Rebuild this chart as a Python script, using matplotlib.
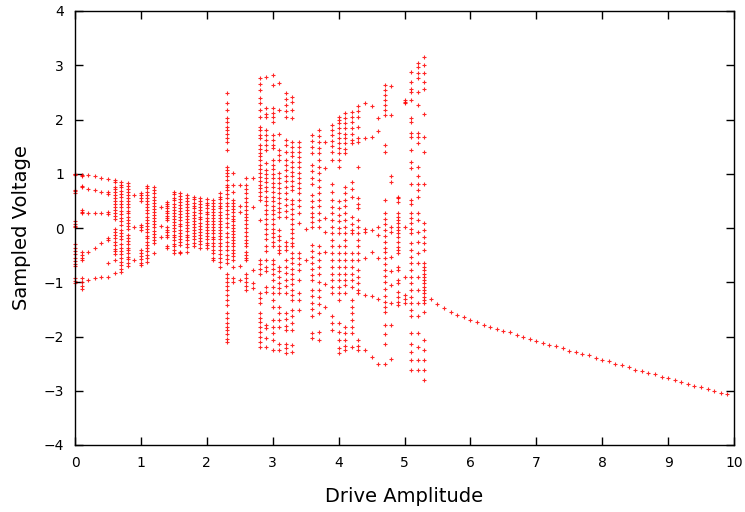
import matplotlib
matplotlib.use("Agg")
import matplotlib.pyplot as plt

# drive amplitude of each sampled column (chaotic / periodic region)
drive = [round(0.1 * k, 1) for k in range(54)]

# sampled voltages, one list per drive amplitude
v0_0 = [1.0, 0.99, 0.97, 0.70, 0.68, 0.65, 0.12, 0.08, 0.04, 0.01, -0.30, -0.36, -0.42, -0.48, -0.55, -0.60, -0.66, -0.70, -0.92, -0.97, -1.02]
v0_1 = [0.98, 0.96, 0.78, 0.75, 0.33, 0.30, 0.27, -0.44, -0.50, -0.55, -0.59, -0.93, -1.00, -1.07, -1.12]
v0_2 = [0.97, 0.72, 0.28, -0.45, -0.95]
v0_3 = [0.95, 0.70, 0.28, -0.36, -0.93]
v0_4 = [0.92, 0.67, 0.28, -0.28, -0.90]
v0_5 = [0.90, 0.66, 0.62, 0.30, 0.26, -0.19, -0.22, -0.65, -0.90]
v0_6 = [0.89, 0.85, 0.76, 0.71, 0.66, 0.61, 0.55, 0.50, 0.44, 0.38, 0.33, 0.27, 0.22, 0.16, -0.02, -0.07, -0.13, -0.19, -0.25, -0.31, -0.38, -0.43, -0.48, -0.59, -0.83]
v0_7 = [0.85, 0.80, 0.75, 0.69, 0.63, 0.58, 0.50, 0.44, 0.39, 0.31, 0.25, 0.18, 0.12, 0.05, -0.03, -0.09, -0.15, -0.21, -0.30, -0.36, -0.42, -0.48, -0.55, -0.62, -0.68, -0.75, -0.81]
v0_8 = [0.83, 0.78, 0.72, 0.67, 0.61, 0.55, 0.49, 0.44, 0.38, 0.32, 0.27, 0.21, 0.15, 0.09, 0.03, -0.02, -0.13, -0.18, -0.24, -0.30, -0.36, -0.41, -0.47, -0.53, -0.58, -0.64, -0.70]
v0_9 = [0.61, 0.02, -0.59]
v1_0 = [0.64, 0.60, 0.55, 0.50, 0.06, 0.02, -0.04, -0.40, -0.46, -0.52, -0.58, -0.64, -0.68]
v1_1 = [0.78, 0.73, 0.67, 0.61, 0.56, 0.50, 0.44, 0.38, 0.33, 0.27, 0.21, 0.15, 0.10, 0.04, -0.02, -0.08, -0.14, -0.19, -0.25, -0.31, -0.37, -0.43, -0.50, -0.56, -0.62]
v1_2 = [0.76, 0.70, 0.64, 0.58, 0.52, 0.47, 0.41, 0.35, 0.30, 0.24, 0.18, 0.12, 0.07, 0.01, -0.05, -0.11, -0.16, -0.22, -0.28, -0.47]
v1_3 = [0.38, 0.04, -0.16]
v1_4 = [0.48, 0.44, 0.40, 0.36, 0.31, 0.27, 0.23, 0.18, 0.15, 0.02, -0.03, -0.08, -0.12, -0.16, -0.34, -0.37]
v1_5 = [0.67, 0.62, 0.56, 0.51, 0.45, 0.39, 0.34, 0.28, 0.22, 0.17, 0.11, 0.05, 0.00, -0.06, -0.12, -0.17, -0.23, -0.29, -0.34, -0.40, -0.47]
v1_6 = [0.65, 0.59, 0.54, 0.48, 0.42, 0.37, 0.31, 0.26, 0.20, 0.14, 0.08, 0.03, -0.03, -0.09, -0.14, -0.20, -0.26, -0.31, -0.44, -0.47]
v1_7 = [0.61, 0.56, 0.50, 0.45, 0.39, 0.33, 0.28, 0.22, 0.16, 0.11, 0.05, 0.00, -0.06, -0.12, -0.17, -0.23, -0.29, -0.35, -0.44]
v1_8 = [0.58, 0.53, 0.47, 0.41, 0.36, 0.30, 0.24, 0.19, 0.13, 0.08, 0.02, -0.04, -0.10, -0.15, -0.21, -0.27, -0.34]
v1_9 = [0.55, 0.50, 0.44, 0.38, 0.33, 0.27, 0.21, 0.16, 0.10, 0.04, -0.01, -0.07, -0.13, -0.18, -0.24, -0.30, -0.37]
v2_0 = [0.53, 0.47, 0.42, 0.36, 0.30, 0.25, 0.19, 0.13, 0.08, 0.02, -0.04, -0.09, -0.15, -0.21, -0.27, -0.32, -0.37]
v2_1 = [0.52, 0.47, 0.41, 0.35, 0.30, 0.24, 0.18, 0.13, 0.07, 0.01, -0.04, -0.10, -0.16, -0.21, -0.27, -0.33, -0.40, -0.47, -0.55, -0.59]
v2_2 = [0.64, 0.58, 0.53, 0.47, 0.41, 0.36, 0.30, 0.24, 0.19, 0.13, 0.07, 0.02, -0.04, -0.10, -0.15, -0.21, -0.27, -0.33, -0.40, -0.48, -0.56, -0.63, -0.71]
v2_3 = [2.48, 2.30, 2.18, 2.02, 1.96, 1.87, 1.80, 1.73, 1.66, 1.59, 1.44, 1.13, 1.06, 1.01, 0.95, 0.88, 0.80, 0.76, 0.70, 0.63, 0.55, 0.47, 0.40, 0.33, 0.25, 0.18, 0.10, 0.02, -0.10, -0.17, -0.25, -0.34, -0.41, -0.49, -0.57, -0.65, -0.84, -0.92, -1.00, -1.07, -1.14, -1.23, -1.32, -1.42, -1.57, -1.66, -1.75, -1.82, -1.88, -1.96, -2.04, -2.10]
v2_4 = [1.01, 0.79, 0.67, 0.52, 0.46, 0.40, 0.35, 0.29, 0.23, 0.17, 0.12, 0.06, 0.00, -0.05, -0.11, -0.17, -0.23, -0.28, -0.34, -0.40, -0.46, -0.52, -0.59, -0.71, -0.93, -0.99]
v2_5 = [0.79, 0.41, 0.30, -0.70, -0.96]
v2_6 = [0.92, 0.79, 0.72, 0.64, 0.56, 0.48, 0.40, 0.33, 0.26, 0.21, 0.15, 0.08, 0.00, -0.08, -0.15, -0.22, -0.28, -0.34, -0.44, -0.50, -0.55, -0.59, -0.84, -0.92, -1.00, -1.07, -1.14]
v2_7 = [0.92, 0.39, -0.77, -1.02, -1.11]
v2_8 = [2.76, 2.66, 2.54, 2.39, 2.30, 2.18, 2.05, 1.87, 1.80, 1.72, 1.65, 1.53, 1.46, 1.39, 1.32, 1.25, 1.16, 1.09, 1.01, 0.94, 0.87, 0.80, 0.73, 0.66, 0.59, 0.52, 0.15, -0.59, -0.67, -0.76, -0.84, -1.20, -1.29, -1.39, -1.57, -1.65, -1.74, -1.83, -1.92, -2.01, -2.10, -2.19]
v2_9 = [2.79, 2.21, 2.11, 2.05, 1.81, 1.72, 1.62, 1.53, 1.44, 1.19, 1.07, 1.00, 0.92, 0.84, 0.76, 0.68, 0.58, 0.50, 0.42, 0.34, 0.25, 0.17, 0.08, -0.02, -0.11, -0.20, -0.34, -0.42, -0.59, -0.71, -0.80, -1.08, -1.18, -1.79, -1.85, -2.02, -2.19]
v3_0 = [2.82, 2.64, 2.21, 2.12, 2.04, 1.96, 1.71, 1.62, 1.53, 1.47, 1.25, 1.17, 1.08, 1.00, 0.92, 0.83, 0.75, 0.67, 0.58, 0.50, 0.41, 0.33, 0.25, 0.16, 0.08, -0.01, -0.09, -0.17, -0.25, -0.34, -0.59, -0.67, -0.76, -0.84, -0.96, -1.08, -1.20, -1.32, -1.45, -1.70, -1.82, -1.94, -2.07, -2.25]
v3_1 = [2.67, 2.18, 1.74, 1.44, 1.34, 1.25, 1.01, 0.92, 0.83, 0.74, 0.64, 0.55, 0.46, 0.37, 0.29, 0.21, -0.04, -0.14, -0.23, -0.33, -0.41, -0.47, -0.71, -0.80, -0.90, -1.01, -1.10, -1.20, -1.45, -1.57, -1.70, -1.82, -2.13, -2.25]
v3_2 = [2.48, 2.38, 2.27, 2.15, 2.05, 1.62, 1.53, 1.41, 1.25, 1.16, 1.06, 0.96, 0.86, 0.75, 0.65, 0.54, 0.43, 0.32, 0.21, -0.25, -0.33, -0.41, -0.59, -0.71, -0.83, -0.95, -1.07, -1.20, -1.57, -1.68, -1.80, -1.88, -2.13, -2.22, -2.31]
v3_3 = [2.42, 2.33, 2.18, 2.02, 1.59, 1.50, 1.41, 1.32, 1.22, 1.13, 1.04, 0.95, 0.86, 0.78, 0.70, 0.52, 0.44, 0.35, 0.26, 0.17, 0.08, -0.01, -0.10, -0.19, -0.27, -0.34, -0.47, -0.56, -0.65, -0.75, -0.84, -0.94, -1.04, -1.14, -1.24, -1.33, -1.51, -1.63, -1.76, -1.88, -2.15, -2.28]
v3_4 = [1.59, 1.50, 1.41, 1.31, 1.22, 1.12, 1.02, 0.92, 0.83, 0.73, 0.64, 0.52, 0.40, 0.27, 0.09, -0.47, -0.56, -0.66, -0.78, -0.96, -1.20, -1.33, -1.51]
v3_5 = [-0.01, -0.59]
v3_6 = [1.71, 1.60, 1.49, 1.38, 1.16, 1.05, 0.93, 0.82, 0.61, 0.50, 0.38, 0.27, 0.21, 0.11, 0.02, -0.31, -0.42, -0.53, -0.64, -0.75, -0.86, -0.96, -1.14, -1.26, -1.38, -1.50, -1.63, -1.94, -2.03]
v3_7 = [1.81, 1.70, 1.59, 1.48, 1.38, 1.25, 1.13, 1.01, 0.89, 0.76, 0.64, 0.52, 0.40, 0.27, 0.15, 0.02, -0.34, -0.47, -0.59, -0.72, -0.84, -0.99, -1.14, -1.27, -1.40, -1.57, -1.91, -2.06]
v3_8 = [1.59, 1.10, 0.18, -0.07, -0.45, -1.03, -1.45]
v3_9 = [1.90, 1.80, 1.71, 1.61, 1.51, 1.40, 1.25, 0.82, 0.67, 0.52, 0.39, 0.27, 0.15, 0.02, -0.10, -0.22, -0.34, -0.47, -0.59, -0.72, -0.84, -0.96, -1.08, -1.20, -1.63, -1.76, -1.88]
v4_0 = [2.05, 1.99, 1.93, 1.84, 1.75, 1.65, 1.56, 1.47, 1.38, 1.25, 1.13, 0.49, 0.37, 0.24, 0.12, 0.00, -0.10, -0.34, -0.47, -0.59, -0.72, -0.84, -0.96, -1.08, -1.20, -1.33, -1.76, -1.91, -2.06, -2.21, -2.31]
v4_1 = [2.12, 2.03, 1.93, 1.84, 1.74, 1.65, 1.56, 1.45, 1.38, 0.76, 0.64, 0.52, 0.40, 0.27, 0.15, 0.02, -0.10, -0.22, -0.34, -0.47, -0.59, -0.71, -0.84, -0.96, -1.05, -1.20, -1.82, -1.94, -2.06, -2.18, -2.25]
v4_2 = [2.14, 2.05, 1.95, 1.85, 1.74, 1.62, 1.56, 0.85, 0.72, 0.58, 0.21, 0.08, -0.04, -0.10, -0.47, -0.59, -0.71, -0.84, -0.96, -1.08, -1.33, -1.45, -1.57, -1.70, -1.82, -1.94, -2.19]
v4_3 = [2.24, 2.15, 2.05, 1.86, 1.65, 1.59, 1.13, 0.55, 0.44, 0.36, 0.15, 0.02, -0.10, -0.22, -0.34, -0.47, -0.59, -0.77, -0.90, -1.02, -1.14, -1.20, -2.06, -2.18, -2.25]
v4_4 = [2.30, 1.65, -0.01, -0.08, -0.56, -1.24, -2.25]
v4_5 = [2.25, 1.68, -0.04, -0.44, -1.25, -2.38]
v4_6 = [2.02, 1.78, 0.02, -0.13, -0.56, -1.30, -2.50]
v4_7 = [2.64, 2.55, 2.45, 2.36, 2.27, 2.17, 2.08, 1.53, 1.41, 0.52, 0.27, 0.17, 0.07, -0.03, -0.14, -0.25, -0.36, -0.45, -0.56, -0.66, -0.77, -0.88, -0.99, -1.12, -1.25, -1.36, -1.45, -1.54, -1.79, -1.95, -2.13, -2.51]
v4_8 = [2.62, 2.08, 0.96, 0.85, 0.02, -0.07, -0.53, -0.80, -1.05, -1.39, -1.79, -2.42]
v4_9 = [0.58, 0.55, 0.48, 0.27, 0.21, 0.15, 0.09, 0.02, -0.04, -0.10, -0.16, -0.26, -0.35, -0.41, -0.47, -0.71, -0.77, -0.96, -1.02, -1.18, -1.27, -1.36, -1.42]
v5_0 = [2.36, 2.33, 2.31, 0.02, -0.90, -1.24, -1.30, -1.39]
v5_1 = [2.88, 2.70, 2.57, 2.51, 2.36, 2.02, 1.96, 1.75, 1.68, 1.44, 1.22, 1.10, 0.82, 0.52, 0.45, 0.27, 0.18, 0.09, -0.01, -0.10, -0.28, -0.41, -0.53, -0.65, -0.77, -0.90, -1.02, -1.14, -1.27, -1.39, -1.51, -1.63, -1.94, -2.13, -2.28, -2.43, -2.62]
v5_2 = [3.04, 2.97, 2.85, 2.76, 2.51, 2.27, 1.75, 1.68, 1.56, 1.13, 0.95, 0.82, 0.70, 0.58, 0.27, 0.15, -0.07, -0.25, -0.47, -0.65, -0.90, -1.14, -1.39, -1.63, -1.94, -2.19, -2.43, -2.62]
v5_3 = [3.16, 3.00, 2.85, 2.70, 2.57, 2.11, 1.68, 1.41, 0.82, 0.09, -0.04, -0.16, -0.28, -0.41, -0.65, -0.71, -0.77, -0.84, -0.90, -0.96, -1.02, -1.08, -1.14, -1.20, -1.27, -1.33, -1.39, -1.54, -2.06, -2.25, -2.43, -2.62, -2.80]

voltages = [v0_0, v0_1, v0_2, v0_3, v0_4, v0_5, v0_6, v0_7, v0_8, v0_9,
            v1_0, v1_1, v1_2, v1_3, v1_4, v1_5, v1_6, v1_7, v1_8, v1_9,
            v2_0, v2_1, v2_2, v2_3, v2_4, v2_5, v2_6, v2_7, v2_8, v2_9,
            v3_0, v3_1, v3_2, v3_3, v3_4, v3_5, v3_6, v3_7, v3_8, v3_9,
            v4_0, v4_1, v4_2, v4_3, v4_4, v4_5, v4_6, v4_7, v4_8, v4_9,
            v5_0, v5_1, v5_2, v5_3]

# single-valued branch above drive 5.3
tail_drive = [round(5.4 + 0.1 * k, 1) for k in range(46)]
tail_voltage = [-1.31, -1.41, -1.47, -1.54, -1.60, -1.64, -1.69, -1.73, -1.78, -1.82,
                -1.86, -1.90, -1.92, -1.97, -2.01, -2.05, -2.08, -2.12, -2.16, -2.18,
                -2.22, -2.27, -2.29, -2.33, -2.35, -2.40, -2.44, -2.46, -2.51, -2.53,
                -2.57, -2.61, -2.64, -2.68, -2.70, -2.74, -2.76, -2.80, -2.83, -2.87,
                -2.91, -2.94, -2.97, -3.00, -3.04, -3.06]

xs, ys = [], []
for d, col in zip(drive, voltages):
    xs.extend([d] * len(col))
    ys.extend(col)
xs.extend(tail_drive)
ys.extend(tail_voltage)

fig = plt.figure(figsize=(7.45, 5.12), dpi=100)
ax = fig.add_axes([75 / 745, 1 - 445 / 512, (734 - 75) / 745, (445 - 11) / 512])

ax.plot(xs, ys, "+", color="red", ms=3, mew=0.8, alpha=0.85, linestyle="none",
        clip_on=False)

ax.set_xlim(0, 10)
ax.set_ylim(-4, 4)
ax.set_xticks(range(0, 11))
ax.set_yticks(range(-4, 5))
ax.tick_params(direction="in", length=6, width=1, top=True, right=True,
               labelsize=10, pad=8)
for spine in ax.spines.values():
    spine.set_linewidth(1)

ax.set_xlabel("Drive Amplitude", fontsize=14, labelpad=12)
ax.set_ylabel("Sampled Voltage", fontsize=14, labelpad=9)

fig.savefig("out.png", dpi=100)
